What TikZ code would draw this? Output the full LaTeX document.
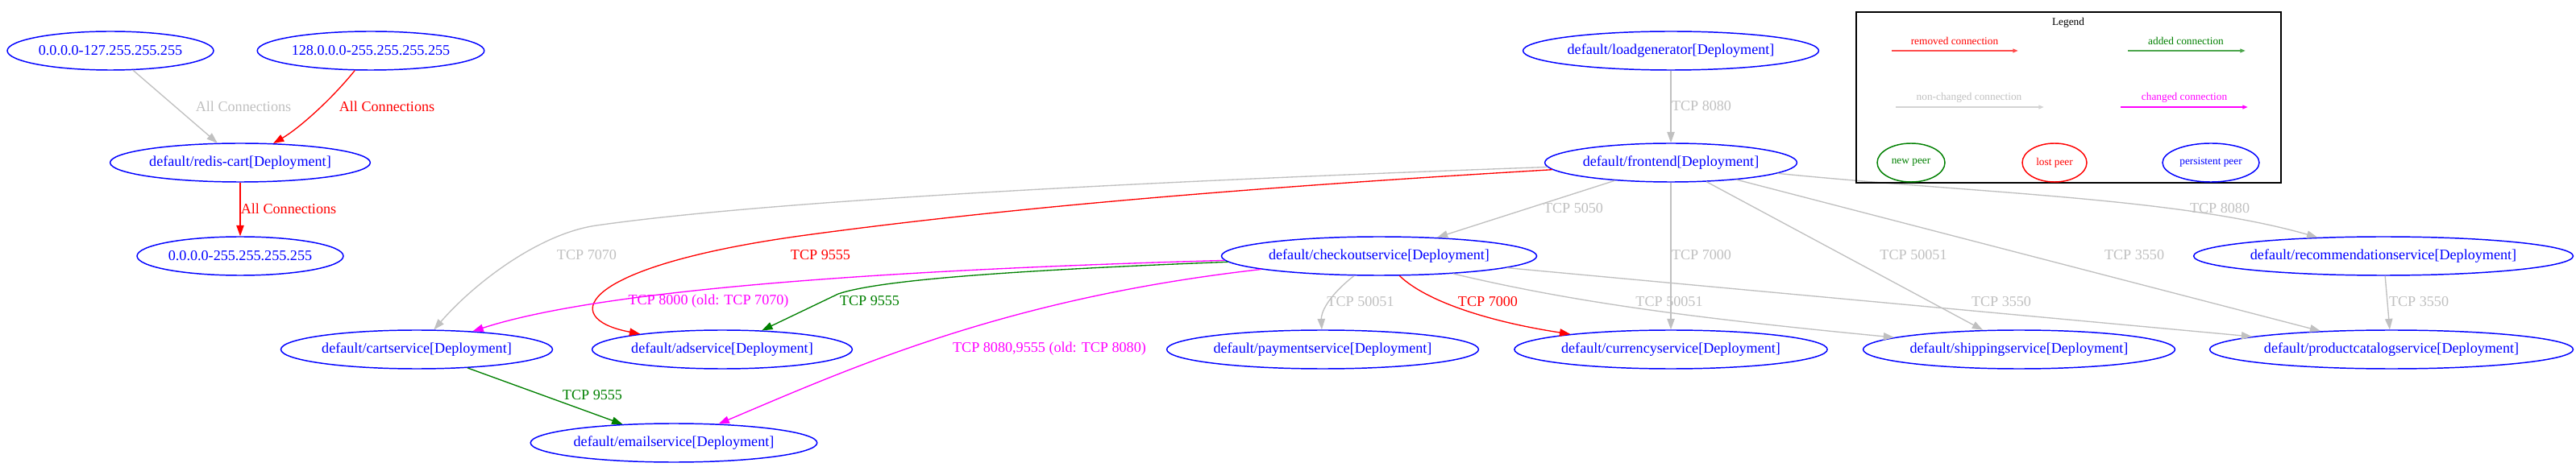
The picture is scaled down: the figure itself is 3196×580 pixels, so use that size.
\documentclass[tikz,border=0pt]{standalone}
\usepackage{fontspec}
\setmainfont{Liberation Serif}
\usetikzlibrary{shapes.geometric,arrows.meta}

\definecolor{nochange}{HTML}{C0C0C0}
\definecolor{addgreen}{HTML}{008000}
\definecolor{chgpink}{RGB}{255,0,255}
\definecolor{remred}{RGB}{255,0,0}
\definecolor{peerblue}{RGB}{0,0,255}

\begin{document}
\begin{tikzpicture}[x=0.75pt, y=-0.75pt,
    peer/.style={ellipse, draw=peerblue, text=peerblue, line width=1.1pt, inner xsep=1pt, inner ysep=0pt,
        minimum height=36pt, font=\fontsize{13.6}{16}\selectfont},
    smallpeer/.style={peer, font=\fontsize{10}{12}\selectfont},
    conn/.style={line width=1pt, -{Triangle[length=10pt, width=7pt]}},
    removed/.style={conn, draw=remred},
    added/.style={conn, draw=addgreen},
    same/.style={conn, draw=nochange},
    changed/.style={conn, draw=chgpink},
    lbl/.style={inner sep=0pt, font=\fontsize{13.6}{16}\selectfont},
    lrem/.style={lbl, text=remred},
    ladd/.style={lbl, text=addgreen},
    lsame/.style={lbl, text=nochange},
    lchg/.style={lbl, text=chgpink},
    keyarrow/.style={line width=1.4pt, -{Triangle[length=5pt, width=3.5pt]}},
    keytext/.style={inner sep=0pt, font=\fontsize{10}{12}\selectfont}]
        \path[use as bounding box, fill=white] (0, 0) rectangle (3196, 580);

        \node[peer] at (137, 63)(ipa){0.0.0.0-127.255.255.255};
        \node[peer] at (460, 63)(ipb){128.0.0.0-255.255.255.255};
        \node[peer] at (298, 202)(rediscart){default/redis-cart[Deployment]};
        \node[peer] at (298, 318)(ipall){0.0.0.0-255.255.255.255};
        \node[peer] at (2073, 63)(loadgen){default/loadgenerator[Deployment]};
        \node[peer] at (2073, 202)(frontend){default/frontend[Deployment]};
        \node[peer] at (1711, 318)(checkout){default/checkoutservice[Deployment]};
        \node[peer] at (2957, 318)(recommend){default/recommendationservice[Deployment]};
        \node[peer] at (517, 434)(cart){default/cartservice[Deployment]};
        \node[peer] at (896, 434)(ad){default/adservice[Deployment]};
        \node[peer] at (1641, 434)(payment){default/paymentservice[Deployment]};
        \node[peer] at (2073, 434)(currency){default/currencyservice[Deployment]};
        \node[peer] at (2505, 434)(shipping){default/shippingservice[Deployment]};
        \node[peer] at (2967, 434)(catalog){default/productcatalogservice[Deployment]};
        \node[peer] at (836, 550)(email){default/emailservice[Deployment]};

        \draw[same] (ipa) -- (rediscart) node[lsame] at (302, 132){All Connections};
        \draw[removed] (ipb) .. controls (410, 125) and (370, 160) .. (rediscart) node[lrem] at (480, 132){All Connections};
        \draw[removed] (rediscart) -- (ipall) node[lrem] at (358, 259){All Connections};
        \draw[same] (loadgen) -- (frontend) node[lsame] at (2111, 132){TCP 8080};
        \draw[same] (frontend) -- (checkout) node[lsame] at (1952, 259){TCP 5050};
        \draw[same] (frontend) -- (currency) node[lsame] at (2111, 317){TCP 7000};
        \draw[same] (frontend) -- (shipping) node[lsame] at (2374, 317){TCP 50051};
        \draw[same] (frontend) -- (catalog) node[lsame] at (2648, 317){TCP 3550};
        \draw[same] (frontend) .. controls (2450, 240) and (2700, 245) .. (recommend) node[lsame] at (2754, 259){TCP 8080};
        \draw[same] (recommend) -- (catalog) node[lsame] at (3001, 375){TCP 3550};
        \draw[same] (frontend) .. controls (1400, 226) and (950, 250) .. (740, 280)
            .. controls (670, 290) and (590, 350) .. (cart) node[lsame] at (728, 317){TCP 7070};
        \draw[removed] (frontend) .. controls (1600, 230) and (1280, 254) .. (1000, 292)
            .. controls (720, 330) and (690, 395) .. (ad) node[lrem] at (1018, 317){TCP 9555};
        \draw[same] (checkout) .. controls (1645, 370) and (1639, 390) .. (payment) node[lsame] at (1688, 375){TCP 50051};
        \draw[removed] (checkout) .. controls (1770, 375) and (1850, 400) .. (currency) node[lrem] at (1846, 375){TCP 7000};
        \draw[same] (checkout) .. controls (1950, 375) and (2100, 395) .. (shipping) node[lsame] at (2071, 375){TCP 50051};
        \draw[same] (checkout) -- (catalog) node[lsame] at (2483, 375){TCP 3550};
        \draw[changed] (checkout) .. controls (1000, 338) and (720, 368) .. (cart) node[lchg] at (879, 374){TCP 8000 (old: TCP 7070)};
        \draw[added] (checkout) .. controls (1250, 336) and (1090, 348) .. (1040, 365) -- (ad) node[ladd] at (1079, 374){TCP 9555};
        \draw[changed] (checkout) .. controls (1250, 370) and (1060, 455) .. (email) node[lchg] at (1302, 433){TCP 8080,9555 (old: TCP 8080)};
        \draw[added] (cart) -- (email) node[ladd] at (735, 491){TCP 9555};

        % legend
        \draw[line width=1pt] (2303, 15) rectangle (2830, 227);
        \node[keytext] at (2566, 28)(legendtitle){Legend};
        \coordinate (remfrom) at (2347, 63);
        \coordinate (remto) at (2504, 63);
        \coordinate (addfrom) at (2640, 63);
        \coordinate (addto) at (2786, 63);
        \coordinate (samefrom) at (2352, 133);
        \coordinate (sameto) at (2536, 133);
        \coordinate (chgfrom) at (2631, 133);
        \coordinate (chgto) at (2789, 133);
        \draw[keyarrow, draw=remred!70] (remfrom) -- (remto) node[keytext, text=remred] at (2425, 51){removed connection};
        \draw[keyarrow, draw=addgreen!70] (addfrom) -- (addto) node[keytext, text=addgreen] at (2712, 51){added connection};
        \draw[keyarrow, draw=nochange!70] (samefrom) -- (sameto) node[keytext, text=nochange] at (2443, 121){non-changed connection};
        \draw[keyarrow, draw=chgpink] (chgfrom) -- (chgto) node[keytext, text=chgpink] at (2710, 121){changed connection};
        \node[smallpeer, draw=addgreen, text=addgreen, minimum width=63pt] at (2371, 202)(newpeer){new peer};
        \node[smallpeer, draw=remred, text=remred, minimum width=60pt] at (2549, 202)(lostpeer){lost peer};
        \node[smallpeer, minimum width=90pt] at (2743, 202)(keeppeer){persistent peer};
\end{tikzpicture}
\end{document}
